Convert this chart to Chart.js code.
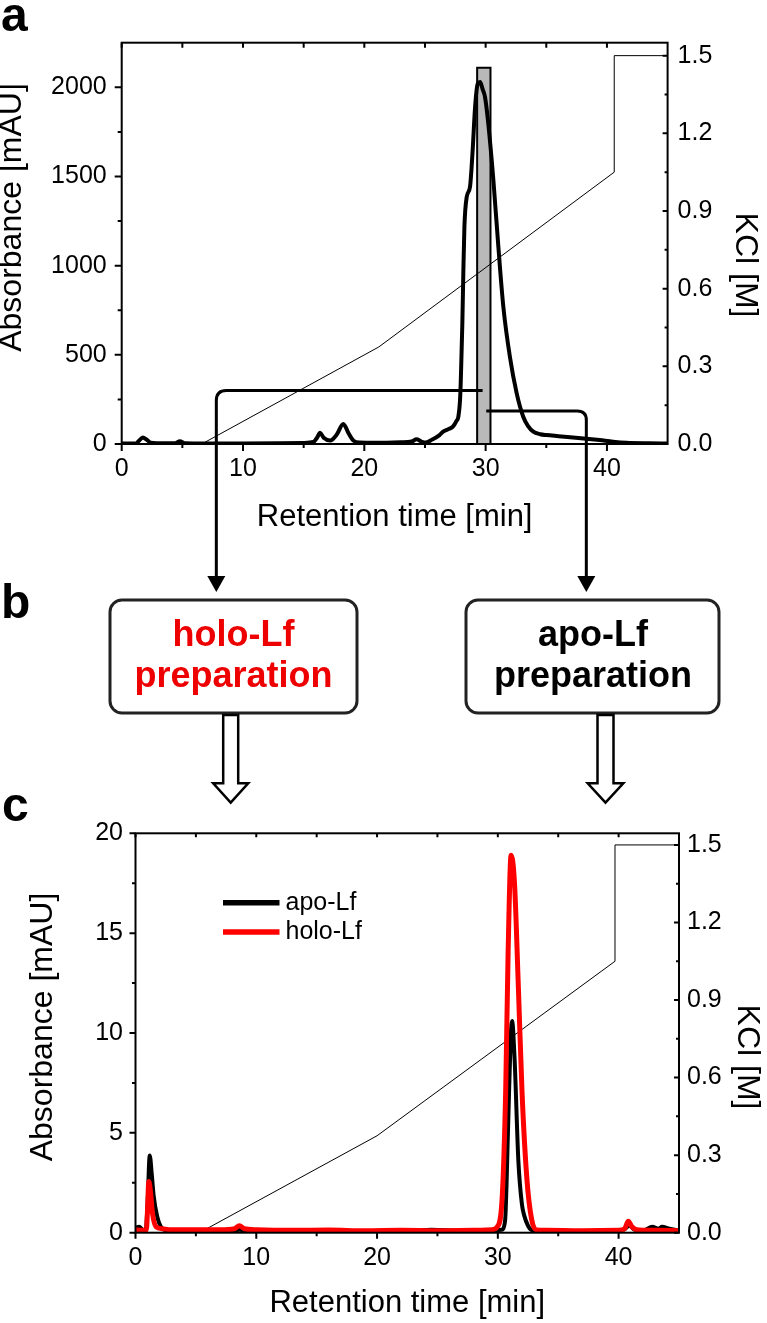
<!DOCTYPE html>
<html lang="en">
<head>
  <meta charset="UTF-8">
  <title>Lactoferrin – cation exchange chromatography</title>
  <script src="https://cdn.jsdelivr.net/npm/chart.js"></script>
  <style>
    body {
      margin: 0;
      background: #fff;
    }
    #page {
      position: relative;
      width: 767px;
      height: 1323px;
      overflow: hidden;
    }
    canvas {
      position: absolute;
      left: 0;
    }
    #chartA { top: 0; }
    #chartC { top: 780px; }
    #overlay {
      position: absolute;
      left: 0;
      top: 0;
      pointer-events: none;
    }
  </style>
</head>
<body>
  <div id="page">
    <canvas id="chartA" width="767" height="545"></canvas>
    <canvas id="chartC" width="767" height="543"></canvas>

    <svg id="overlay" width="767" height="1323" viewBox="0 0 767 1323" xmlns="http://www.w3.org/2000/svg">
      <g font-family="Liberation Sans, Arial, sans-serif" font-weight="bold" font-size="48" fill="#000">
        <text x="1" y="31">a</text>
        <text x="1" y="618">b</text>
        <text x="2" y="821">c</text>
      </g>

      <!-- panel b: the two preparations -->
      <rect x="110" y="600" width="247" height="113" rx="12" fill="#fff" stroke="#222" stroke-width="3"/>
      <rect x="466" y="600" width="253" height="113" rx="12" fill="#fff" stroke="#222" stroke-width="3"/>
      <g font-family="Liberation Sans, Arial, sans-serif" font-weight="bold" font-size="36" text-anchor="middle">
        <text x="233.5" y="646" fill="#ee0000">holo-Lf</text>
        <text x="233.5" y="687" fill="#ee0000">preparation</text>
        <text x="593" y="646" fill="#000">apo-Lf</text>
        <text x="593" y="687" fill="#000">preparation</text>
      </g>
      <polygon points="223.2,715 238.2,715 238.2,783.3 248.2,783.3 230.7,802.6 213.2,783.3 223.2,783.3"
               fill="#fff" stroke="#000" stroke-width="2.5" stroke-linejoin="miter"/>
      <polygon points="597.5,715 613.5,715 613.5,783.3 623.3,783.3 605.5,802.6 587.7,783.3 597.5,783.3"
               fill="#fff" stroke="#000" stroke-width="2.5" stroke-linejoin="miter"/>

      <!-- links from the collected fractions (set from the chart scales below) -->
      <path id="holoPath" fill="none" stroke="#000" stroke-width="3"/>
      <polygon id="holoHead" fill="#000"/>
      <path id="apoPath" fill="none" stroke="#000" stroke-width="3"/>
      <polygon id="apoHead" fill="#000"/>
    </svg>
  </div>

  <script>
    // ---- panel a: preparative run ----
    const timeA = [0, 1.2, 1.45, 1.73, 2.05, 2.4, 3.5, 4.4, 4.8, 5.2, 7, 10, 13, 15, 15.8, 16.1, 16.35, 16.65,
      17.2, 17.7, 18.27, 18.7, 19.1, 19.6, 21, 23, 23.9, 24.3, 24.7, 25, 25.6, 26.2, 26.5, 27.0, 27.3, 27.6,
      27.75, 27.9, 27.97, 28.08, 28.16, 28.25, 28.44, 28.71, 28.93, 29.13, 29.35, 29.54, 29.75, 29.95, 30.22,
      30.64, 31.05, 31.46, 32.0, 32.56, 33.1, 33.5, 33.93, 34.5, 35.0, 36, 37.2, 38.3, 39.4, 40.5, 41.6, 43.5, 45];
    const absA = [3, 4, 20, 37, 25, 7, 4, 4, 15, 4, 3, 3, 4, 6, 11, 35, 63, 35,
      19, 50, 112, 60, 19, 8, 7, 10, 14, 26, 14, 8, 25, 50, 69, 85, 97, 130,
      153, 260, 396, 676, 956, 1217, 1385, 1441, 1646, 1889, 2020, 2029, 1990, 1945, 1796,
      1478, 1105, 769, 489, 284, 153, 100, 69, 55, 50, 44, 37, 30, 22, 13, 7, 4, 3];

    const kclTimeA = [0, 6.6, 21.2, 40.6, 40.6, 45];
    const kclA = [0, 0, 0.375, 1.05, 1.5, 1.5];

    // collected fraction (grey bar)
    const cutTime = [29.3, 29.3, 30.4, 30.4];
    const cutAbs = [0, 2110, 2110, 0];

    // ---- panel c: analytical runs of the two preparations ----
    const timeApo = [0, 0.3, 0.6, 0.85, 1.0, 1.18, 1.35, 1.5, 1.8, 2.1, 2.6, 4, 6, 8, 8.6, 9.2, 11, 14, 17,
      20, 23, 24.5, 27, 29, 30.3, 30.6, 30.85, 31.06, 31.18, 31.38, 31.7, 32.0, 32.2, 32.5, 32.8, 34, 37, 39,
      40.4, 40.9, 41.3, 42, 42.8, 43.3, 43.6, 44.2, 45];
    const apo = [0.25, 0.3, 0.15, 0.12, 1.5, 3.87, 2.9, 1.87, 0.8, 0.3, 0.12, 0.1, 0.1, 0.1, 0.15, 0.1, 0.1, 0.08, 0.1,
      0.05, 0.1, 0.15, 0.1, 0.1, 0.15, 0.6, 5.3, 9.7, 10.6, 8.8, 3.6, 1.4, 0.83, 0.35, 0.14, 0.1, 0.08, 0.1,
      0.15, 0.35, 0.15, 0.1, 0.3, 0.2, 0.3, 0.2, 0.1];

    const timeHolo = [0, 0.5, 0.9, 1.0, 1.1, 1.25, 1.4, 1.7, 2.2, 3, 5, 7, 8.2, 8.6, 9.0, 10, 13, 16, 19, 22, 25,
      28, 29.5, 29.96, 30.37, 30.65, 30.85, 31.1, 31.38, 31.7, 32.0, 32.4, 32.8, 33.2, 34, 37, 40, 40.5, 40.8,
      41.1, 41.5, 43, 45];
    const holo = [0.15, 0.12, 0.14, 1.2, 2.57, 2.0, 1.0, 0.3, 0.2, 0.15, 0.15, 0.15, 0.2, 0.35, 0.2, 0.15, 0.12, 0.13, 0.1, 0.12, 0.1,
      0.12, 0.15, 0.3, 1.87, 7.1, 14.0, 18.9, 17.5, 12.3, 7.1, 2.74, 0.66, 0.14, 0.12, 0.1, 0.12, 0.2, 0.57,
      0.3, 0.15, 0.12, 0.1];

    const kclTimeC = [0, 5.3, 20, 39.7, 39.7, 45];
    const kclC = [0, 0, 0.375, 1.05, 1.5, 1.5];

    // ---- tick labels ----
    const timeTicks = [0, 10, 20, 30, 40];
    const absTicksA = [0, 500, 1000, 1500, 2000];
    const absTicksC = [0, 5, 10, 15, 20];
    const kclTicks = [0, 0.3, 0.6, 0.9, 1.2, 1.5];

    // where the two fractions leave panel a (data units of panel a)
    const holoLink = { from: 29.75, to: 7.8, level: 300 };
    const apoLink = { from: 30.05, to: 38.3, level: 185 };

    const FONT = '"Liberation Sans", Arial, sans-serif';
    Chart.defaults.font.family = FONT;
    Chart.defaults.color = '#000';

    function pts(xs, ys) {
      return xs.map((x, i) => ({ x: x, y: ys[i] }));
    }

    // box around the plot with Origin-like ticks
    function framePlugin(len) {
      return {
        id: 'frame',
        afterDatasetsDraw(chart) {
          const { ctx, chartArea: a, scales } = chart;
          const mids = arr => arr.slice(1).map((v, i) => (v + arr[i]) / 2);
          const xt = scales.x.ticks.map(t => t.value);
          const yt = scales.y.ticks.map(t => t.value);
          const y2t = scales.y2.ticks.map(t => t.value);
          ctx.save();
          ctx.strokeStyle = '#000';
          ctx.lineWidth = 2;
          ctx.beginPath();
          xt.forEach(v => { const p = scales.x.getPixelForValue(v); ctx.moveTo(p, a.bottom); ctx.lineTo(p, a.bottom + len.major); });
          mids(xt).forEach(v => { const p = scales.x.getPixelForValue(v); ctx.moveTo(p, a.bottom); ctx.lineTo(p, a.bottom + len.minor); });
          xt.concat(mids(xt)).forEach(v => { const p = scales.x.getPixelForValue(v); ctx.moveTo(p, a.top); ctx.lineTo(p, a.top + len.top); });
          yt.forEach(v => { const p = scales.y.getPixelForValue(v); ctx.moveTo(a.left, p); ctx.lineTo(a.left - len.major, p); });
          mids(yt).forEach(v => { const p = scales.y.getPixelForValue(v); ctx.moveTo(a.left, p); ctx.lineTo(a.left - len.minor, p); });
          y2t.forEach(v => { const p = scales.y2.getPixelForValue(v); ctx.moveTo(a.right, p); ctx.lineTo(a.right - len.rMajor, p); });
          mids(y2t).forEach(v => { const p = scales.y2.getPixelForValue(v); ctx.moveTo(a.right, p); ctx.lineTo(a.right - len.rMinor, p); });
          ctx.stroke();
          ctx.strokeRect(a.left, a.top, a.right - a.left, a.bottom - a.top);
          ctx.restore();
        }
      };
    }

    // rotated axis titles (placed like the original, not centred)
    function sideTitlesPlugin(items) {
      return {
        id: 'sideTitles',
        afterDraw(chart) {
          const ctx = chart.ctx;
          items.forEach(t => {
            ctx.save();
            ctx.translate(t.x, t.y);
            ctx.rotate(t.rot);
            ctx.font = '32px ' + FONT;
            ctx.fillStyle = '#000';
            ctx.textAlign = 'center';
            ctx.textBaseline = 'middle';
            ctx.fillText(t.text, 0, 0);
            ctx.restore();
          });
        }
      };
    }

    // small line legend inside panel c
    const lineLegend = {
      id: 'lineLegend',
      afterDatasetsDraw(chart) {
        const { ctx, chartArea: a } = chart;
        let row = 0;
        chart.data.datasets.forEach(ds => {
          if (!ds.label) return;
          const y = a.top + 69.5 + row * 29.2;
          ctx.save();
          ctx.strokeStyle = ds.borderColor;
          ctx.lineWidth = 5.5;
          ctx.beginPath();
          ctx.moveTo(a.left + 87.5, y);
          ctx.lineTo(a.left + 144, y);
          ctx.stroke();
          ctx.font = '25px ' + FONT;
          ctx.fillStyle = '#000';
          ctx.textBaseline = 'middle';
          ctx.fillText(ds.label, a.left + 150, y);
          ctx.restore();
          row++;
        });
      }
    };

    function axes(cfg) {
      const tickFont = { size: 25 };
      return {
        x: {
          type: 'linear', min: 0, max: 45,
          afterBuildTicks: s => { s.ticks = timeTicks.map(v => ({ value: v })); },
          afterFit: s => { s.height = cfg.xHeight; },
          grid: { display: false, drawTicks: false },
          border: { display: false },
          ticks: { font: tickFont, padding: 10, maxRotation: 0, autoSkip: false, callback: v => String(v) },
          title: {
            display: true, text: 'Retention time [min]',
            font: { size: 31, lineHeight: 1 },
            padding: { top: 0, bottom: cfg.xTitlePad }
          }
        },
        y: {
          min: 0, max: cfg.yMax,
          afterBuildTicks: s => { s.ticks = cfg.yTicks.map(v => ({ value: v })); },
          afterFit: s => { s.width = cfg.yWidth; },
          grid: { display: false, drawTicks: false },
          border: { display: false },
          ticks: { font: tickFont, padding: cfg.yPad, autoSkip: false, callback: v => String(v) }
        },
        y2: {
          position: 'right', min: 0, max: cfg.y2Max,
          afterBuildTicks: s => { s.ticks = kclTicks.map(v => ({ value: v })); },
          afterFit: s => { s.width = cfg.y2Width; },
          grid: { display: false, drawTicks: false },
          border: { display: false },
          ticks: { font: tickFont, padding: cfg.y2Pad, autoSkip: false, callback: v => v.toFixed(1) }
        }
      };
    }

    // ---- chart a ----
    const chartA = new Chart(document.getElementById('chartA'), {
      type: 'line',
      data: {
        datasets: [{
          data: pts(timeA, absA),
          borderColor: '#000', borderWidth: 4, borderJoinStyle: 'round',
          pointRadius: 0, cubicInterpolationMode: 'monotone', yAxisID: 'y'
        }, {
          data: pts(kclTimeA, kclA),
          borderColor: '#000', borderWidth: 1, pointRadius: 0, tension: 0, yAxisID: 'y2'
        }, {
          data: pts(cutTime, cutAbs),
          borderColor: '#000', borderWidth: 2, backgroundColor: '#b9b9b9',
          fill: 'origin', pointRadius: 0, tension: 0, yAxisID: 'y'
        }]
      },
      options: {
        responsive: false,
        animation: false,
        layout: { padding: { top: 42.7, left: 0, right: 0, bottom: 0 } },
        plugins: { legend: { display: false }, tooltip: { enabled: false } },
        scales: axes({
          xHeight: 101, xTitlePad: 12.5,
          yMax: 2250, yTicks: absTicksA, yWidth: 121.7, yPad: 15,
          y2Max: 1.55, y2Width: 99.4, y2Pad: 10
        })
      },
      plugins: [
        framePlugin({ major: 7, minor: 4, top: 5, rMajor: 5, rMinor: 3 }),
        sideTitlesPlugin([
          { text: 'Absorbance [mAU]', x: 12, y: 217.5, rot: -Math.PI / 2 },
          { text: 'KCl [M]', x: 745, y: 265, rot: Math.PI / 2 }
        ])
      ]
    });

    // ---- chart c ----
    const chartC = new Chart(document.getElementById('chartC'), {
      type: 'line',
      data: {
        datasets: [{
          label: 'apo-Lf',
          data: pts(timeApo, apo),
          borderColor: '#000', borderWidth: 4, borderJoinStyle: 'round',
          pointRadius: 0, cubicInterpolationMode: 'monotone', yAxisID: 'y'
        }, {
          label: 'holo-Lf',
          data: pts(timeHolo, holo),
          borderColor: '#ff0000', borderWidth: 5, borderJoinStyle: 'round',
          pointRadius: 0, cubicInterpolationMode: 'monotone', yAxisID: 'y'
        }, {
          data: pts(kclTimeC, kclC),
          borderColor: '#000', borderWidth: 1, pointRadius: 0, tension: 0, yAxisID: 'y2'
        }]
      },
      options: {
        responsive: false,
        animation: false,
        layout: { padding: { top: 53.3, left: 0, right: 0, bottom: 0 } },
        plugins: { legend: { display: false }, tooltip: { enabled: false } },
        scales: axes({
          xHeight: 90.3, xTitlePad: 4.5,
          yMax: 20, yTicks: absTicksC, yWidth: 135.5, yPad: 12.5,
          y2Max: 1.545, y2Width: 88, y2Pad: 8
        })
      },
      plugins: [
        framePlugin({ major: 6, minor: 3.5, top: 4, rMajor: 5, rMinor: 3 }),
        sideTitlesPlugin([
          { text: 'Absorbance [mAU]', x: 43, y: 247, rot: -Math.PI / 2 },
          { text: 'KCl [M]', x: 747, y: 277, rot: Math.PI / 2 }
        ]),
        lineLegend
      ]
    });

    // red (holo) trace sits above the black one, as in the original
    chartC.data.datasets[1].order = -1;
    chartC.update();

    // ---- connector lines from the fractions in panel a down to panel b ----
    function drawLink(pathId, headId, link, r) {
      const x0 = chartA.scales.x.getPixelForValue(link.from);
      const x1 = chartA.scales.x.getPixelForValue(link.to);
      const yh = chartA.scales.y.getPixelForValue(link.level);
      const dir = x1 < x0 ? 1 : -1;
      const tipY = 592, headLen = 16;
      document.getElementById(pathId).setAttribute('d',
        `M ${x0} ${yh} H ${x1 + dir * r} Q ${x1} ${yh} ${x1} ${yh + r} V ${tipY - headLen + 1}`);
      document.getElementById(headId).setAttribute('points',
        `${x1 - 9},${tipY - headLen} ${x1 + 9},${tipY - headLen} ${x1},${tipY}`);
    }
    drawLink('holoPath', 'holoHead', holoLink, 10);
    drawLink('apoPath', 'apoHead', apoLink, 9);
  </script>
</body>
</html>
